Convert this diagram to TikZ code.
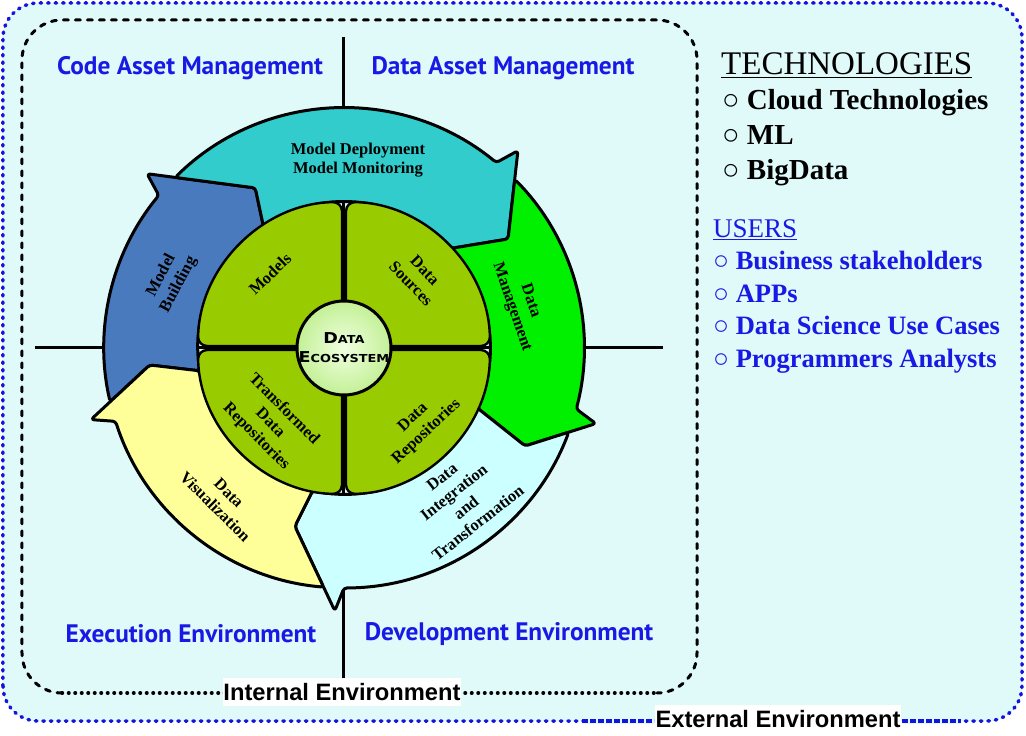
\documentclass[tikz,border=0pt]{standalone}
\usepackage{fontspec}
\usepackage{graphicx}
\setmainfont{Liberation Serif}
\newfontfamily\areafont{PT Sans}
\newfontfamily\envfont{Liberation Sans}
\newfontfamily\ecofont{DejaVu Sans}
\usetikzlibrary{calc}

\definecolor{bgcyan}{RGB}{224,249,249}
\definecolor{edgeblue}{RGB}{20,20,225}
\definecolor{labelblue}{RGB}{25,25,230}
\definecolor{arrblue}{RGB}{74,122,190}
\definecolor{arrcyan}{RGB}{51,204,204}
\definecolor{arrgreen}{RGB}{0,240,0}
\definecolor{arrlcyan}{RGB}{204,255,255}
\definecolor{arryellow}{RGB}{255,255,153}
\definecolor{quadgreen}{RGB}{153,204,0}
\definecolor{ecoinner}{RGB}{240,255,225}
\definecolor{ecoouter}{RGB}{195,240,150}

\begin{document}
\begin{tikzpicture}[x=1pt,y=1pt,
  arrowbox/.style={draw=black, line width=3pt, line join=round, rounded corners=3pt},
  quad/.style={draw=black, fill=quadgreen, line width=2.4pt, rounded corners=9pt},
  ringlbl/.style={font=\fontsize{16.5}{19.5}\selectfont\bfseries, align=center},
  arealbl/.style={font=\areafont\bfseries\fontsize{25.3}{28}\selectfont, text=labelblue},
  envlbl/.style={font=\envfont\bfseries\fontsize{23.7}{27}\selectfont, fill=white, inner xsep=0.5pt, inner ysep=5pt},
  ecotxt/.style={anchor=base, inner sep=0pt, font=\ecofont\bfseries},
  techitem/.style={anchor=base west, inner sep=0pt, font=\fontsize{29}{32}\selectfont\bfseries},
  useritem/.style={anchor=base west, inner sep=0pt, text=labelblue, font=\fontsize{26.5}{30}\selectfont\bfseries}]

\useasboundingbox (-344,-388) rectangle (682,348);

% external environment
\draw[edgeblue, fill=bgcyan, line width=3.5pt, line cap=round, dash pattern=on 1.5pt off 6pt, rounded corners=35pt] (-341,-373) rectangle (678,345);
\foreach \xa/\xb in {238/310, 558/617}{
  \draw[bgcyan, line width=5pt] (\xa,-373) -- (\xb,-373);
  \draw[edgeblue, line width=3.5pt, dash pattern=on 6pt off 2pt] (\xa,-373) -- (\xb,-373);
}

% internal environment
\draw[line width=3pt, line cap=round, dash pattern=on 5pt off 7pt, rounded corners=40pt] (-282,-345) -- (-322,-345) -- (-322,328) -- (353,328) -- (353,-345) -- (313,-345);
\draw[line width=3.5pt, line cap=round, dash pattern=on 0.5pt off 6pt] (-282,-345) -- (313,-345);

% the four areas
\draw[line width=3pt] (0,311) -- (0,-332);
\draw[line width=3pt] (-309,0) -- (319,0);
\node[arealbl] (code) at (-154,280) {Code Asset Management};
\node[arealbl] (dasset) at (159,280) {Data Asset Management};
\node[arealbl] (exec) at (-153,-286) {Execution Environment};
\node[arealbl] (dev) at (165,-286) {Development Environment};

% arrow heads: notch, barb, corner, inner point
\foreach \nm/\th/\dk/\rk/\dq in {blu/138.5/19.5/183/15, cya/48.6/15/197/5.6, grn/-16.7/11.7/206/7.5, lcy/-92/13.4/185/10.4, yel/195.8/10.8/195/6.8}{
  \coordinate (\nm-n) at ({\th+2}:240);
  \coordinate (\nm-b) at (\th:263);
  \coordinate (\nm-k) at ({\th-\dk}:\rk);
  \coordinate (\nm-q) at ({\th-\dq}:146);
}

% the ring of arrows
\draw[arrowbox, fill=arrblue] ($(yel-b)!0.326!(yel-k)$) arc[start angle=192.95, end angle=140.5, radius=240]
  -- (blu-b) -- (blu-k) -- (blu-q) arc[start angle=123.5, end angle=189, radius=146] -- (yel-k) -- cycle;
\draw[arrowbox, fill=arrcyan] ($(blu-b)!0.26!(blu-k)$) arc[start angle=134.7, end angle=50.6, radius=240]
  -- (cya-b) -- (cya-k) -- (cya-q) arc[start angle=43, end angle=123.5, radius=146] -- (blu-k) -- cycle;
\draw[arrowbox, fill=arrgreen] ($(cya-b)!0.324!(cya-k)$) arc[start angle=44.7, end angle=-14.7, radius=240]
  -- (grn-b) -- (grn-k) -- (grn-q) arc[start angle=-24.2, end angle=43, radius=146] -- (cya-k) -- cycle;
\draw[arrowbox, fill=arrlcyan] ($(grn-b)!0.384!(grn-k)$) arc[start angle=-20.55, end angle=-90, radius=240]
  -- (lcy-b) -- (lcy-k) -- (lcy-q) arc[start angle=-102.4, end angle=-24.2, radius=146] -- (grn-k) -- cycle;
\draw[arrowbox, fill=arryellow] ($(lcy-b)!0.281!(lcy-k)$) arc[start angle=-94.9, end angle=-162.2, radius=240]
  -- (yel-b) -- (yel-k) -- (yel-q) arc[start angle=-171, end angle=-102.4, radius=146] -- (lcy-k) -- cycle;

% quadrants
\foreach \a in {0,90,180,270}{
  \draw[quad, rotate=\a] (2,2) -- (89.2:146) arc[start angle=89.2, end angle=0.8, radius=146] -- cycle;
}
\shadedraw[line width=3pt, inner color=ecoinner, outer color=ecoouter] (0,0) circle[radius=47];
\node[ecotxt] (eco-a) at (0,4) {\scalebox{1.17}[1]{\fontsize{15}{15}\selectfont D\fontsize{11}{11}\selectfont ATA}};
\node[ecotxt] (eco-b) at (0,-15) {\scalebox{1.17}[1]{\fontsize{15}{15}\selectfont E\fontsize{11}{11}\selectfont COSYSTEM}};

% labels on the ring
\node[ringlbl] (deploy) at (14,188) {Model Deployment\\Model Monitoring};
\node[ringlbl, rotate=62] (build) at (-174,68) {Model\\Building};
\node[ringlbl, rotate=-71] (dmgmt) at (177,44) {Data\\Management};
\node[ringlbl, rotate=38] (integ) at (116,-152) {Data\\Integration\\and\\Transformation};
\node[ringlbl, rotate=-45] (visual) at (-122,-152) {Data\\Visualization};
\node[ringlbl, rotate=44] (models) at (-74,74) {Models};
\node[ringlbl, rotate=-46] (sources) at (74,71) {Data\\Sources};
\node[ringlbl, rotate=-45] (trepo) at (-74,-75) {Transformed\\Data\\Repositories};
\node[ringlbl, rotate=43] (drepo) at (76,-77) {Data\\Repositories};

% environment labels
\node[envlbl] (internal) at (-2,-344) {Internal Environment};
\node[envlbl] (external) at (434,-371) {External Environment};

% technologies and users
\node[anchor=base west, inner sep=0pt, font=\fontsize{33}{36}\selectfont] (tech) at (377,273) {\underline{TECHNOLOGIES}};
\foreach \item [count=\i] in {Cloud Technologies, ML, BigData}
  \node[techitem] (tech-\i) at (378, {238-(\i-1)*35}) {○ \item};
\node[anchor=base west, inner sep=0pt, text=labelblue, font=\fontsize{27}{30}\selectfont] (users) at (369,110) {\underline{USERS}};
\foreach \item [count=\i] in {Business stakeholders, APPs, Data Science Use Cases, Programmers Analysts}
  \node[useritem] (user-\i) at (369, {78-(\i-1)*32.5}) {○ \item};
\end{tikzpicture}
\end{document}
